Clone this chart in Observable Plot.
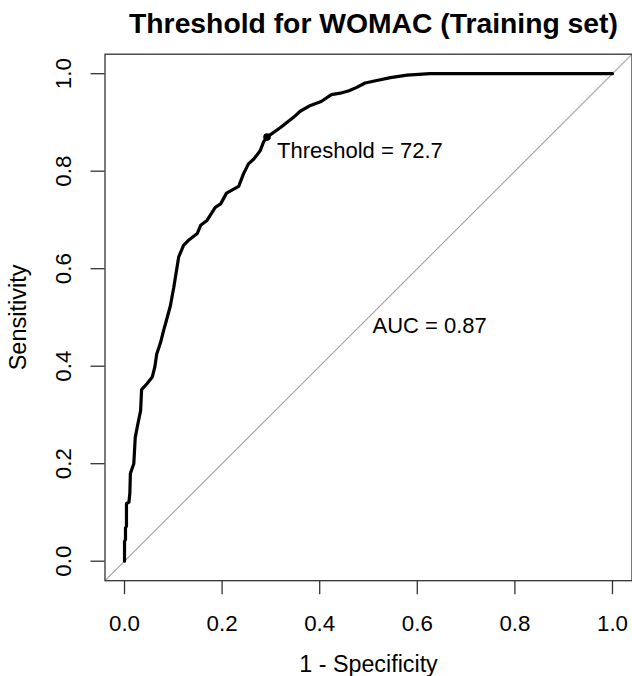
<!DOCTYPE html>
<html>
<head>
<meta charset="utf-8">
<script src="https://cdn.jsdelivr.net/npm/d3@7"></script>
<script src="https://cdn.jsdelivr.net/npm/@observablehq/plot@0.6"></script>
<style>
  html, body { margin: 0; padding: 0; background: #fff; }
  #wrap { width: 632px; height: 676px; position: relative; font-family: "Liberation Sans", Arial, Helvetica, sans-serif; }
  #title { position: absolute; left: 109.75px; width: 527.5px; top: 0; height: 45px; text-align: center;
           font-weight: bold; font-size: 28.3px; line-height: 45px; padding-top: 1px; color: #000; white-space: nowrap; }
  #chart { position: absolute; left: 0; top: 45px; }
</style>
</head>
<body>
<div id="wrap">
  <div id="title">Threshold for WOMAC (Training set)</div>
  <div id="chart"></div>
</div>
<script>
// ROC curve (1 - specificity, sensitivity)
const fpr = [0, 0.000, 0.002, 0.002, 0.004, 0.004, 0.009, 0.011, 0.012, 0.019, 0.022, 0.027, 0.033, 0.035, 0.046,
  0.057, 0.062, 0.066, 0.074, 0.080, 0.084, 0.094, 0.101, 0.111, 0.121, 0.132, 0.149, 0.156, 0.169,
  0.186, 0.197, 0.209, 0.234, 0.244, 0.254, 0.265, 0.278, 0.285, 0.292, 0.319, 0.347, 0.360, 0.381,
  0.403, 0.424, 0.442, 0.460, 0.476, 0.493, 0.517, 0.545, 0.579, 0.626, 0.70, 0.80, 0.90, 1.0];
const tpr = [0, 0.040, 0.045, 0.068, 0.072, 0.118, 0.121, 0.140, 0.180, 0.200, 0.254, 0.280, 0.309, 0.352, 0.364,
  0.378, 0.398, 0.425, 0.449, 0.473, 0.487, 0.524, 0.562, 0.624, 0.648, 0.659, 0.672, 0.689, 0.699,
  0.726, 0.733, 0.755, 0.769, 0.795, 0.815, 0.825, 0.842, 0.860, 0.870, 0.889, 0.911, 0.923, 0.935,
  0.943, 0.957, 0.960, 0.965, 0.972, 0.981, 0.986, 0.992, 0.997, 1.0, 1.0, 1.0, 1.0, 1.0];

const thresholdFpr = [0.292];
const thresholdTpr = [0.870];
const thresholdLabel = ["Threshold = 72.7"];
const aucLabel = ["AUC = 0.87"];
const aucPos = [0.5, 0.5];

const xTicks = [0, 0.2, 0.4, 0.6, 0.8, 1.0];
const yTicks = [0, 0.2, 0.4, 0.6, 0.8, 1.0];
const xTitle = "1 - Specificity";
const yTitle = "Sensitivity";

const domain = [-0.04, 1.04];
const curve = fpr.map((x, i) => ({x, y: tpr[i]}));
const diag = domain.map(v => ({x: v, y: v}));
const fmt = d3.format(".1f");
const FONT = "\"Liberation Sans\", Arial, Helvetica, sans-serif";

const chart = Plot.plot({
  width: 632,
  height: 631,
  marginTop: 8.7,
  marginBottom: 95.8,
  marginLeft: 104.5,
  marginRight: 0.5,
  style: {fontFamily: FONT, fontSize: "22px", background: "white", overflow: "visible"},
  x: {domain},
  y: {domain},
  marks: [
    Plot.line(diag, {x: "x", y: "y", stroke: "#aaaaaa", strokeWidth: 1.2, clip: true}),
    Plot.line(curve, {x: "x", y: "y", stroke: "black", strokeWidth: 3.2, strokeLinejoin: "round", curve: "linear"}),
    Plot.dot(thresholdFpr, {x: d => d, y: (d, i) => thresholdTpr[i], r: 3.8, fill: "black", stroke: "none"}),
    Plot.text(thresholdFpr, {x: d => d, y: (d, i) => thresholdTpr[i], text: (d, i) => thresholdLabel[i],
      textAnchor: "start", lineAnchor: "top", dx: 10, dy: 5, fontSize: 22, fill: "black"}),
    Plot.text(aucLabel, {x: () => aucPos[0], y: () => aucPos[1], text: d => d,
      textAnchor: "start", lineAnchor: "top", dx: 4, dy: 0, fontSize: 22, fill: "black"}),
    Plot.frame({stroke: "#333", strokeWidth: 1.3}),
    Plot.axisX({ticks: xTicks, tickSize: 14, tickPadding: 20.5, tickFormat: fmt, label: null,
      stroke: "#333", fill: "black", fontSize: 22.3, strokeWidth: 1.3}),
    Plot.axisY({ticks: yTicks, tickSize: 14, tickFormat: () => "", label: null, stroke: "#333", strokeWidth: 1.3}),
    Plot.text(yTicks, {frameAnchor: "left", y: d => d, text: d => fmt(d), rotate: -90,
      textAnchor: "middle", lineAnchor: "bottom", dx: -34, fontSize: 22.3, fill: "black"}),
    Plot.text([yTitle], {frameAnchor: "left", text: d => d, rotate: -90,
      textAnchor: "middle", lineAnchor: "bottom", dx: -79, fontSize: 23.5, fill: "black"}),
    Plot.text([xTitle], {frameAnchor: "bottom", text: d => d,
      textAnchor: "middle", lineAnchor: "bottom", dy: 91, fontSize: 23.3, fill: "black"})
  ]
});
document.getElementById("chart").appendChild(chart);
</script>
</body>
</html>
